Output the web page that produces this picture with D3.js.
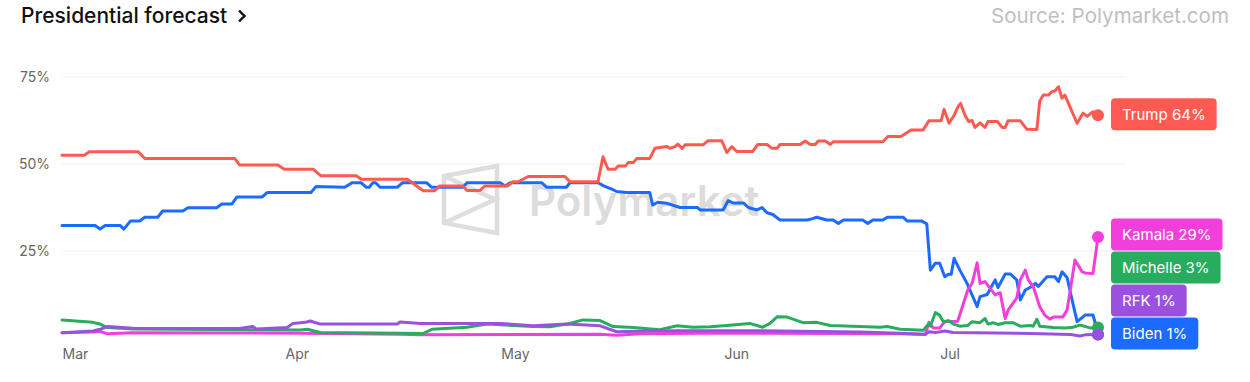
<!DOCTYPE html>
<html><head><meta charset="utf-8">
<script src="https://cdn.jsdelivr.net/npm/d3@7"></script>
<style>
body{margin:0;background:#fff;}
svg{display:block;font-family:Inter,"Noto Sans",sans-serif;}
</style>
</head><body>
<svg id="c" width="1250" height="382"></svg>
<script>
// ---- data (day offset from 2024-03-01, percent) ----
const startDate = "2024-03-01";
const endDate = "2024-07-23";
const monthTicks = ["2024-03-01","2024-04-01","2024-05-01","2024-06-01","2024-07-01"];
const yTicks = [25, 50, 75];

const trump = [[0,52.5],[3.1,52.5],[3.8,53.5],[10.6,53.5],[11.5,51.6],[24,51.6],[24.7,49.7],[30,49.7],[30.9,48.5],[34.9,48.5],[36,46.6],[40.9,46.6],[41.6,45.6],[48,45.6],[50.2,42.3],[51.8,42.3],[52.5,43.7],[55.7,43.7],[56.3,42.4],[58.1,42.4],[58.8,43.7],[61.9,43.7],[62.7,44.9],[63.4,44.9],[64.8,46.4],[69.9,46.4],[70.6,44.9],[74.5,44.9],[75.2,52.1],[75.9,48.5],[76.9,48.5],[77.3,49.4],[78.3,49.4],[78.7,50.4],[79.4,50.4],[79.9,51.6],[81.7,51.6],[82.4,54.5],[84.1,55],[84.5,54.5],[85.2,55],[85.6,55.7],[86.2,54.5],[86.6,55.5],[89.1,55.5],[89.8,56.7],[91.7,56.7],[92.4,53.3],[93.1,55],[93.8,53.6],[96,53.6],[96.7,55.6],[98,55.6],[98.7,54.5],[99.4,54.5],[99.8,55.6],[102.6,55.6],[103.3,56.6],[104,55.6],[104.7,55.6],[105.1,56.6],[106.1,56.6],[106.8,55.6],[107.2,56.4],[114.1,56.4],[114.8,57.9],[116.6,57.9],[117.3,58.8],[118,59.8],[119.7,59.8],[120.5,62.4],[122.2,62.4],[122.6,65.7],[123.3,61.7],[124,64],[124.6,66.7],[124.9,67.4],[125.5,64.1],[126,62.2],[126.5,62.5],[126.9,60.5],[127.6,61.8],[128.3,60.5],[128.7,62.2],[130,62.2],[130.7,60.5],[131.1,60.5],[131.5,62.4],[133.2,62.4],[134.1,60],[135.5,59.9],[135.9,68],[136.4,69.8],[137.1,69.8],[137.6,70.8],[138,71],[138.5,72.2],[139,68.9],[139.4,69.8],[141.1,61.7],[141.9,64.6],[142.5,63.7],[143.3,65],[144,64]];

const biden = [[0,32.3],[4.6,32.3],[5.3,31.3],[6,32.3],[8.1,32.3],[8.6,31.3],[9.5,33.6],[10.8,33.6],[11.5,34.7],[13.3,34.7],[14,36.5],[16.8,36.5],[17.5,37.4],[21.5,37.4],[22.2,38.5],[23.6,38.5],[24.3,40.5],[27.8,40.5],[28.5,41.8],[34.6,41.8],[35.3,43.5],[39.3,43.3],[40.3,44.6],[41.6,44.6],[42.3,43.3],[42.7,43.3],[43.2,44.6],[43.6,44.6],[44.2,43.3],[46.6,43.3],[47.3,44.6],[50.7,44.6],[51.4,43.3],[55.7,43.3],[56.3,44.6],[60.9,44.6],[61.6,43.7],[62.3,44.6],[66.7,44.6],[67.4,43.3],[70.1,43.3],[70.6,44.6],[74.5,44.6],[75.3,43.7],[75.8,43.3],[76.5,42.7],[77.1,42.1],[78.5,41.8],[81.7,41.8],[82.1,38.2],[82.8,39],[84.1,38.7],[85.9,37.5],[88.3,37.5],[88.7,36.8],[91.9,36.8],[92.6,39.5],[93.3,38.8],[94.7,38.8],[95.4,37.5],[96.6,36.8],[97.3,37.5],[98,36],[98.8,35.5],[99.8,33.9],[103.6,33.9],[104.3,34.3],[104.9,34.7],[106.3,33.9],[107.2,33.9],[107.9,32.9],[108.6,33.9],[111.3,33.9],[112,32.9],[112.7,33.9],[114.1,33.9],[114.7,34.7],[116.9,34.7],[117.5,33.6],[119.5,33.6],[120.2,32.8],[120.7,19.5],[121.4,21.5],[122,21.5],[122.7,17.6],[123.2,18.3],[123.6,18.3],[124,22.9],[124.8,19.5],[125.8,15.7],[127.2,9],[127.6,11.9],[128.6,12.5],[129.7,16.7],[130.1,14.5],[131.1,18.4],[131.8,18.4],[132.7,16.7],[133.2,10.9],[133.9,13.8],[134.8,14.8],[135.3,15.7],[135.7,14.8],[136.9,17.6],[138,17.6],[138.5,16.2],[139,19],[139.7,17.4],[140.4,10.9],[141.1,4.7],[142.2,6.6],[143.3,6.6],[143.9,2.3],[144,1]];

const kamala = [[0,1.5],[4.3,1.7],[5.3,1.9],[6.3,1.2],[9.9,1.5],[33.1,1.4],[47,1.1],[49.8,0.9],[74.8,1.1],[77.1,0.8],[80.3,1.2],[88.7,1.4],[116.5,1.2],[120,1.0],[120.5,4.5],[121.1,2.9],[122,2.9],[122.7,4.7],[124.5,4.8],[125.9,13.8],[126.5,15.7],[127.2,21.6],[127.6,15.7],[128.3,16.2],[129.7,12.4],[130.4,13],[131.1,5.6],[131.5,8],[132.2,10],[132.7,11.5],[133.2,16.7],[133.9,19.5],[134.3,16.7],[135,14.8],[135.9,9],[136.6,6.6],[137.3,5.4],[137.8,6],[139.1,6],[139.7,8],[140.8,22.4],[141.8,19],[142.2,18.7],[143.3,18.5],[144,29]];

const michelle = [[0,5.2],[4.3,4.5],[5.3,4.0],[6.3,3.0],[9.9,2.6],[33.1,2.3],[34.1,2.5],[35.9,1.6],[47,1.4],[50.2,1.3],[51.4,2.5],[56.3,3.1],[59.1,4.0],[65.5,3.3],[67.8,3.2],[70.2,4],[72.4,5.2],[74.8,5.0],[76.6,3.3],[79.4,3.0],[83.1,2.4],[85.5,3.5],[87.7,3.1],[90.1,3.2],[92.4,3.6],[95.6,4.2],[97.4,3.1],[98.4,4.2],[99.4,6.1],[100.8,6],[101.6,5.4],[103,4.4],[104.9,4.5],[106.8,3.6],[110.9,3.3],[113.7,3.1],[114.7,3.3],[116.5,2.5],[119.7,2.2],[120.5,4.2],[120.7,3.4],[121.4,7.3],[122,6.5],[122.5,4.7],[123.2,5],[123.9,4],[124.8,3.4],[125.9,3.6],[126.5,4.7],[127.6,4.4],[128.3,5.6],[128.7,4],[129.4,4.4],[130.1,3.9],[131.1,4.4],[132.2,4.4],[133.2,3.4],[134.6,3.6],[135,3.4],[135.5,5.4],[135.9,3.4],[137.8,3],[139.4,2.9],[140.5,3.1],[141.5,3.7],[141.9,3.5],[142.9,2.9],[144,3]];

const rfk = [[0,1.5],[4.3,2.0],[5.3,2.5],[6.3,3.3],[9.9,2.8],[24.7,2.7],[26.5,3.3],[27,2.6],[31.3,3.0],[32.1,4.2],[33.8,4.5],[34.5,4.9],[35.9,4.0],[46.6,4.0],[47,4.6],[49.8,4.2],[60.9,4.2],[65.5,3.5],[70.2,4.0],[74.8,3.5],[77.1,1.8],[83.1,2.1],[97,2.1],[110.9,1.7],[116.5,1.4],[120,1.1],[120.5,1.8],[121.4,1.6],[122.7,2.0],[123.9,1.6],[134.6,1.3],[140.2,1.0],[141.5,0.6],[142.2,0.9],[144,1]];

const seriesNames = ["Biden","Trump","Kamala","Michelle","RFK"];
const seriesData = [biden, trump, kamala, michelle, rfk];
const seriesColors = ["#1c6bff","#ff5a52","#f23fdc","#28ad5f","#9b51e0"];
const labelOrder = ["Trump","Kamala","Michelle","RFK","Biden"]; // top to bottom

// ---- chart ----
const svg = d3.select("#c");
const t0 = new Date(startDate + "T00:00:00Z");
const dateOf = d => new Date(t0.getTime() + d * 864e5);
const x = d3.scaleUtc().domain([t0, new Date(endDate + "T00:00:00Z")]).range([62, 1098]);
const y = d3.scaleLinear().domain([0, 75]).range([338, 77]);

// title
svg.append("text").attr("x", 21).attr("y", 23).attr("font-size", 21).attr("font-weight", 500)
  .attr("fill", "#111").text("Presidential forecast");
svg.append("path").attr("d", "M239,10.5 L244.5,16 L239,21.5").attr("fill", "none")
  .attr("stroke", "#111").attr("stroke-width", 2.4);
svg.append("text").attr("x", 1229).attr("y", 23).attr("text-anchor", "end").attr("font-size", 20.6)
  .attr("fill", "#bfbfbf").text("Source: Polymarket.com");

// gridlines
svg.append("g").selectAll("line").data(yTicks).join("line")
  .attr("x1", 62).attr("x2", 1126).attr("y1", d => y(d)).attr("y2", d => y(d))
  .attr("stroke", "#efefef").attr("stroke-width", 1);

// y axis
const ya = svg.append("g").attr("transform", "translate(50,0)")
  .call(d3.axisLeft(y).tickValues(yTicks).tickFormat(d => d + "%").tickSize(0).tickPadding(0));
ya.select(".domain").remove();
ya.selectAll("text").attr("font-size", 14).attr("fill", "#666").attr("font-family", "Inter");

// x axis
const xa = svg.append("g").attr("transform", "translate(0,349)")
  .call(d3.axisBottom(x).tickValues(monthTicks.map(s => new Date(s + "T00:00:00Z")))
    .tickFormat(d3.utcFormat("%b")).tickSize(0).tickPadding(0));
xa.select(".domain").remove();
xa.selectAll("text").attr("font-size", 14).attr("fill", "#666").attr("text-anchor", "start")
  .attr("font-family", "Inter");

// watermark
const wm = svg.append("g").attr("fill", "none").attr("stroke", "#dedede").attr("stroke-width", 4.5)
  .attr("stroke-linejoin", "miter");
wm.append("path").attr("d", "M444,176 L497,166 L497,233 L444,223 Z");
wm.append("path").attr("d", "M444,176 L495,199.5 L444,223");
svg.append("text").attr("x", 529).attr("y", 216).attr("font-size", 42).attr("font-weight", 600)
  .attr("fill", "#dcdcdc").text("Polymarket");

// lines
const line = d3.line().x(p => x(dateOf(p[0]))).y(p => y(p[1]));
seriesData.forEach((data, i) => {
  svg.append("path").datum(data).attr("d", line).attr("fill", "none")
    .attr("stroke", seriesColors[i]).attr("stroke-width", 3)
    .attr("stroke-linejoin", "round").attr("stroke-linecap", "round");
});
seriesData.forEach((data, i) => {
  const last = data[data.length - 1];
  svg.append("circle").attr("cx", x(dateOf(last[0]))).attr("cy", y(last[1])).attr("r", 6)
    .attr("fill", seriesColors[i]);
});

// labels
let prev = Infinity;
const centers = {};
labelOrder.slice().reverse().forEach(name => {
  const i = seriesNames.indexOf(name);
  const v = seriesData[i][seriesData[i].length - 1][1];
  const c = Math.min(y(v) - 1, prev - 33);
  centers[name] = c; prev = c;
});
labelOrder.forEach(name => {
  const i = seriesNames.indexOf(name);
  const v = seriesData[i][seriesData[i].length - 1][1];
  const g = svg.append("g");
  const rect = g.append("rect").attr("x", 1111).attr("y", centers[name] - 16).attr("height", 32)
    .attr("rx", 4).attr("fill", seriesColors[i]);
  const txt = g.append("text").attr("x", 1122).attr("y", centers[name]).attr("dy", "0.36em")
    .attr("font-size", 15).attr("fill", "#fff").text(name + " " + Math.round(v) + "%");
  rect.attr("width", txt.node().getComputedTextLength() + 22);
});
</script>
</body></html>
